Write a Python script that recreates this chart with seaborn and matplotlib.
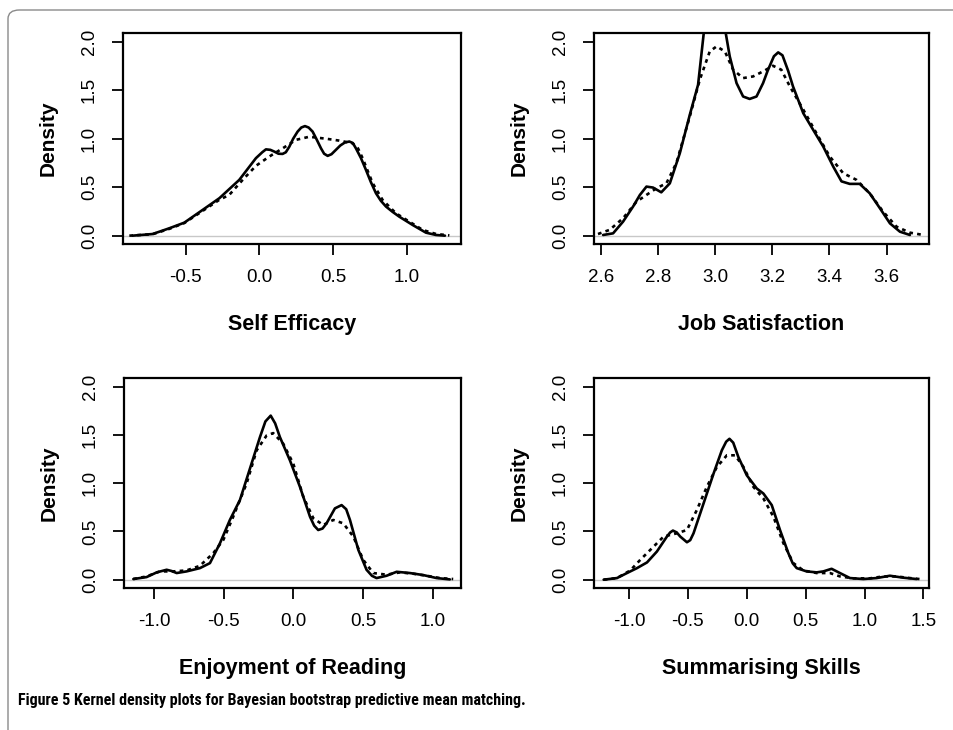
import matplotlib
matplotlib.use("Agg")
import matplotlib.pyplot as plt
from matplotlib.patches import FancyBboxPatch
import seaborn as sns

# ---- Self Efficacy ----
se_obs_x = [-0.86, -0.724, -0.611, -0.509, -0.385, -0.271, -0.136, -0.023, 0.02, 0.045,
            0.075, 0.102, 0.13, 0.158, 0.18, 0.204, 0.23, 0.26, 0.285, 0.31,
            0.335, 0.362, 0.39, 0.419, 0.44, 0.464, 0.49, 0.52, 0.55, 0.58,
            0.611, 0.635, 0.656, 0.69, 0.724, 0.758, 0.792, 0.825, 0.86, 0.905,
            0.95, 1.041, 1.131, 1.199, 1.26]
se_obs_y = [0.0, 0.017, 0.076, 0.134, 0.265, 0.386, 0.575, 0.799, 0.86, 0.89,
            0.885, 0.867, 0.845, 0.843, 0.86, 0.918, 1.0, 1.073, 1.115, 1.13,
            1.115, 1.073, 0.99, 0.9, 0.845, 0.823, 0.84, 0.885, 0.93, 0.96,
            0.971, 0.955, 0.9, 0.8, 0.678, 0.55, 0.437, 0.36, 0.3, 0.245,
            0.196, 0.11, 0.031, 0.007, 0.0]
se_imp_x = [-0.882, -0.724, -0.611, -0.509, -0.385, -0.271, -0.204, -0.113, -0.023, 0.068,
            0.158, 0.249, 0.339, 0.452, 0.543, 0.633, 0.67, 0.701, 0.735, 0.77,
            0.837, 0.928, 1.018, 1.109, 1.2, 1.29]
se_imp_y = [0.0, 0.015, 0.07, 0.13, 0.255, 0.37, 0.42, 0.575, 0.72, 0.816,
            0.9, 0.988, 1.02, 1.0, 0.98, 0.953, 0.9, 0.8, 0.67, 0.54,
            0.368, 0.23, 0.145, 0.059, 0.017, 0.003]

# ---- Job Satisfaction ----
js_obs_x = [2.606, 2.641, 2.676, 2.711, 2.735, 2.758, 2.781, 2.81, 2.84, 2.875,
            2.91, 2.939, 2.959, 2.98, 2.998, 3.016, 3.036, 3.05, 3.074, 3.097,
            3.12, 3.144, 3.167, 3.183, 3.205, 3.22, 3.235, 3.255, 3.272, 3.308,
            3.343, 3.378, 3.413, 3.442, 3.471, 3.506, 3.541, 3.577, 3.612, 3.647,
            3.682]
js_obs_y = [0.007, 0.024, 0.145, 0.3, 0.42, 0.506, 0.496, 0.447, 0.54, 0.85,
            1.246, 1.556, 2.09, 2.25, 2.3, 2.25, 2.09, 1.85, 1.573, 1.435,
            1.41, 1.435, 1.573, 1.7, 1.85, 1.89, 1.86, 1.7, 1.539, 1.263,
            1.09, 0.919, 0.713, 0.56, 0.534, 0.534, 0.437, 0.282, 0.127, 0.041,
            0.007]
js_imp_x = [2.588, 2.629, 2.676, 2.723, 2.758, 2.793, 2.828, 2.863, 2.91, 2.945,
            2.98, 3.004, 3.033, 3.062, 3.097, 3.132, 3.167, 3.202, 3.231, 3.261,
            3.308, 3.354, 3.401, 3.448, 3.495, 3.541, 3.588, 3.635, 3.682, 3.729]
js_imp_y = [0.017, 0.06, 0.18, 0.35, 0.42, 0.489, 0.54, 0.75, 1.229, 1.608,
            1.9, 1.952, 1.9, 1.711, 1.625, 1.642, 1.694, 1.752, 1.711, 1.539,
            1.3, 1.057, 0.816, 0.644, 0.575, 0.437, 0.248, 0.093, 0.031, 0.007]

# ---- Enjoyment of Reading ----
er_obs_x = [-1.148, -1.053, -0.98, -0.909, -0.873, -0.837, -0.766, -0.67, -0.598, -0.526,
            -0.455, -0.383, -0.311, -0.239, -0.2, -0.162, -0.13, -0.096, -0.024, 0.048,
            0.12, 0.15, 0.179, 0.21, 0.239, 0.299, 0.347, 0.38, 0.407, 0.467,
            0.526, 0.565, 0.598, 0.67, 0.742, 0.837, 0.933, 1.029, 1.124]
er_obs_y = [0.007, 0.027, 0.076, 0.103, 0.09, 0.069, 0.086, 0.12, 0.172, 0.378,
            0.619, 0.825, 1.151, 1.478, 1.64, 1.70, 1.62, 1.478, 1.237, 0.962,
            0.653, 0.56, 0.515, 0.53, 0.584, 0.739, 0.773, 0.73, 0.619, 0.309,
            0.103, 0.04, 0.017, 0.041, 0.082, 0.069, 0.048, 0.017, 0.003]
er_imp_x = [-1.148, -1.053, -0.957, -0.861, -0.766, -0.67, -0.574, -0.502, -0.431, -0.335,
            -0.263, -0.191, -0.144, -0.072, 0.0, 0.072, 0.144, 0.215, 0.287, 0.359,
            0.431, 0.502, 0.574, 0.67, 0.766, 0.861, 0.957, 1.053, 1.148]
er_imp_y = [0.007, 0.034, 0.086, 0.086, 0.096, 0.144, 0.275, 0.412, 0.653, 0.997,
            1.34, 1.495, 1.519, 1.409, 1.203, 0.859, 0.636, 0.567, 0.619, 0.584,
            0.447, 0.206, 0.069, 0.052, 0.076, 0.062, 0.041, 0.017, 0.007]

# ---- Summarising Skills ----
ss_obs_x = [-1.215, -1.102, -1.017, -0.932, -0.847, -0.763, -0.678, -0.65, -0.627, -0.595,
            -0.565, -0.508, -0.48, -0.452, -0.367, -0.282, -0.212, -0.175, -0.147, -0.115,
            -0.071, 0.0, 0.085, 0.141, 0.212, 0.282, 0.353, 0.39, 0.424, 0.508,
            0.593, 0.65, 0.72, 0.791, 0.876, 0.989, 1.102, 1.215, 1.328, 1.441]
ss_obs_y = [0.0, 0.017, 0.069, 0.12, 0.179, 0.292, 0.447, 0.49, 0.509, 0.49,
            0.447, 0.388, 0.41, 0.481, 0.79, 1.1, 1.34, 1.43, 1.46, 1.42,
            1.27, 1.082, 0.945, 0.893, 0.773, 0.515, 0.275, 0.17, 0.12, 0.086,
            0.076, 0.086, 0.113, 0.069, 0.017, 0.007, 0.017, 0.041, 0.021, 0.007]
ss_imp_x = [-1.215, -1.102, -0.989, -0.904, -0.819, -0.706, -0.593, -0.508, -0.424, -0.339,
            -0.254, -0.169, -0.099, -0.028, 0.056, 0.141, 0.226, 0.311, 0.395, 0.48,
            0.593, 0.706, 0.791, 0.904, 1.045, 1.158, 1.271, 1.384, 1.497]
ss_imp_y = [0.0, 0.017, 0.096, 0.206, 0.309, 0.447, 0.481, 0.515, 0.722, 0.962,
            1.168, 1.289, 1.289, 1.168, 0.962, 0.842, 0.653, 0.378, 0.172, 0.096,
            0.069, 0.069, 0.034, 0.014, 0.014, 0.034, 0.034, 0.017, 0.003]

titles = ["Self Efficacy", "Job Satisfaction", "Enjoyment of Reading", "Summarising Skills"]
x_ticks = [
    [-0.5, 0.0, 0.5, 1.0],
    [2.6, 2.8, 3.0, 3.2, 3.4, 3.6],
    [-1.0, -0.5, 0.0, 0.5, 1.0],
    [-1.0, -0.5, 0.0, 0.5, 1.0, 1.5],
]
y_ticks = [0.0, 0.5, 1.0, 1.5, 2.0]
x_limits = [(-0.925, 1.369), (2.574, 3.749), (-1.215, 1.204), (-1.297, 1.547)]

series = [
    (se_obs_x, se_obs_y, se_imp_x, se_imp_y),
    (js_obs_x, js_obs_y, js_imp_x, js_imp_y),
    (er_obs_x, er_obs_y, er_imp_x, er_imp_y),
    (ss_obs_x, ss_obs_y, ss_imp_x, ss_imp_y),
]

sns.set_style("white")
plt.rcParams["font.family"] = ["Liberation Sans", "DejaVu Sans"]
for key in ("text.color", "axes.labelcolor", "xtick.color", "ytick.color"):
    plt.rcParams[key] = "black"

W, H = 954, 730
fig = plt.figure(figsize=(W / 100, H / 100), dpi=100)

# panel boxes in pixels: left, top, right, bottom
boxes = [
    (123, 33, 461, 244),
    (594, 33, 929, 244),
    (124, 378, 461, 588),
    (594, 378, 929, 588),
]

for i, (bx, (ox, oy, ix, iy)) in enumerate(zip(boxes, series)):
    l, t, r, b = bx
    ax = fig.add_axes([l / W, 1 - b / H, (r - l) / W, (b - t) / H])
    ax.axhline(0, color="#c8c8c8", lw=1.0, zorder=1)
    sns.lineplot(x=ox, y=oy, ax=ax, color="black", lw=1.9, sort=True, zorder=3)
    sns.lineplot(x=ix, y=iy, ax=ax, color="black", lw=1.9, sort=True, zorder=2,
                 linestyle=(0, (1.4, 1.6)))
    ax.set_xlim(*x_limits[i])
    ax.set_ylim(-0.086, 2.09)
    ax.set_xticks(x_ticks[i])
    ax.set_xticklabels([f"{v:.1f}" for v in x_ticks[i]])
    ax.set_yticks(y_ticks)
    ax.set_yticklabels([f"{v:.1f}" for v in y_ticks], rotation=90, va="center")
    ax.tick_params(axis="both", direction="out", length=8, width=1.3, color="black",
                   labelsize=13.5, pad=10, bottom=True, left=True)
    for sp in ax.spines.values():
        sp.set_visible(True)
        sp.set_color("black")
        sp.set_linewidth(1.6)
    ax.set_ylabel("Density", fontsize=15, fontweight="bold", labelpad=17)
    ax.set_xlabel(titles[i], fontsize=15.5, fontweight="bold", labelpad=20)
    ax.grid(False)

# surrounding frame with rounded corner
frame = FancyBboxPatch((8 / W, -0.2), 1.2, (1 - 10 / H) + 0.2,
                       boxstyle="round,pad=0,rounding_size=0.012",
                       transform=fig.transFigure, fill=False,
                       edgecolor="#8a8a8a", lw=1.0, clip_on=False)
fig.patches.append(frame)

fig.text(18 / W, 1 - 701 / H,
         "Figure 5 Kernel density plots for Bayesian bootstrap predictive mean matching.",
         fontsize=11.5, fontweight="bold", va="center", ha="left",
         family=["Roboto Condensed", "Lato", "Liberation Sans"])

fig.savefig("out.png", dpi=100)
